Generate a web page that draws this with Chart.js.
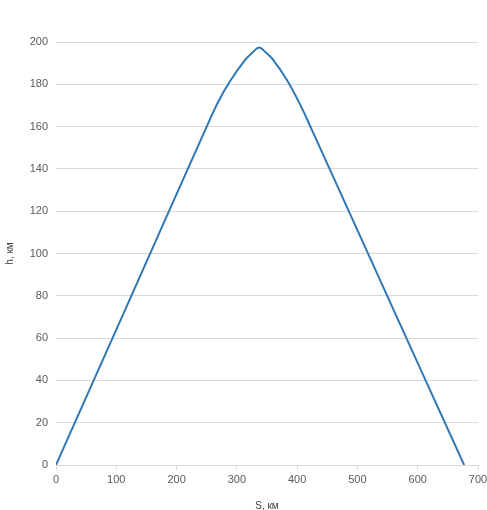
<!DOCTYPE html>
<html>
<head>
<meta charset="utf-8">
<script src="https://cdn.jsdelivr.net/npm/chart.js@4/dist/chart.umd.min.js"></script>
<style>
  html, body { margin: 0; padding: 0; background: #fff; overflow: hidden; }
  #wrap { width: 500px; height: 520px; }
</style>
</head>
<body>
<div id="wrap"><canvas id="c"></canvas></div>
<script>
// дальность S, км и высота h, км
const sKm = [0, 125, 250, 270, 290, 315, 326, 337, 348, 359, 382, 404, 422, 550, 677];
const hKm = [0, 80, 160, 172.2, 182, 192, 195, 197.4, 195, 192, 182.5, 171, 160, 79.6, 0];

const xTitle = "S, км";
const yTitle = "h, км";

const points = sKm.map((s, i) => ({ x: s, y: hKm[i] }));

const tickFont = { family: "'Liberation Sans', Arial, sans-serif", size: 11 };
const gridColor = "#d9d9d9";

new Chart(document.getElementById("c"), {
  type: "scatter",
  data: {
    datasets: [
      {
        data: points,
        showLine: true,
        borderColor: "#2f78b4",
        borderWidth: 2,
        pointRadius: 0,
        tension: 0.4,
        fill: false,
      },
    ],
  },
  options: {
    responsive: true,
    maintainAspectRatio: false,
    animation: false,
    layout: { padding: { left: 0, right: 22, top: 42, bottom: 0 } },
    plugins: { legend: { display: false }, tooltip: { enabled: false } },
    scales: {
      x: {
        type: "linear",
        min: 0,
        max: 700,
        ticks: { stepSize: 100, color: "#595959", font: tickFont, padding: 3 },
        grid: { drawOnChartArea: false, tickLength: 5, color: gridColor },
        border: { color: gridColor },
        title: {
          display: true,
          text: xTitle,
          color: "#404040",
          font: { family: "'Liberation Sans', Arial, sans-serif", size: 10 },
          padding: { top: 0, bottom: 8 },
        },
        afterFit: (scale) => { scale.height = 55; },
      },
      y: {
        min: 0,
        max: 200,
        ticks: { stepSize: 20, color: "#595959", font: tickFont, padding: 8 },
        grid: { color: gridColor, drawTicks: false },
        border: { display: false },
        title: {
          display: true,
          text: yTitle,
          color: "#404040",
          font: { family: "'Liberation Sans', Arial, sans-serif", size: 10 },
          padding: { top: 4, bottom: 0 },
        },
        afterFit: (scale) => { scale.width = 56; },
      },
    },
  },
});
</script>
</body>
</html>
